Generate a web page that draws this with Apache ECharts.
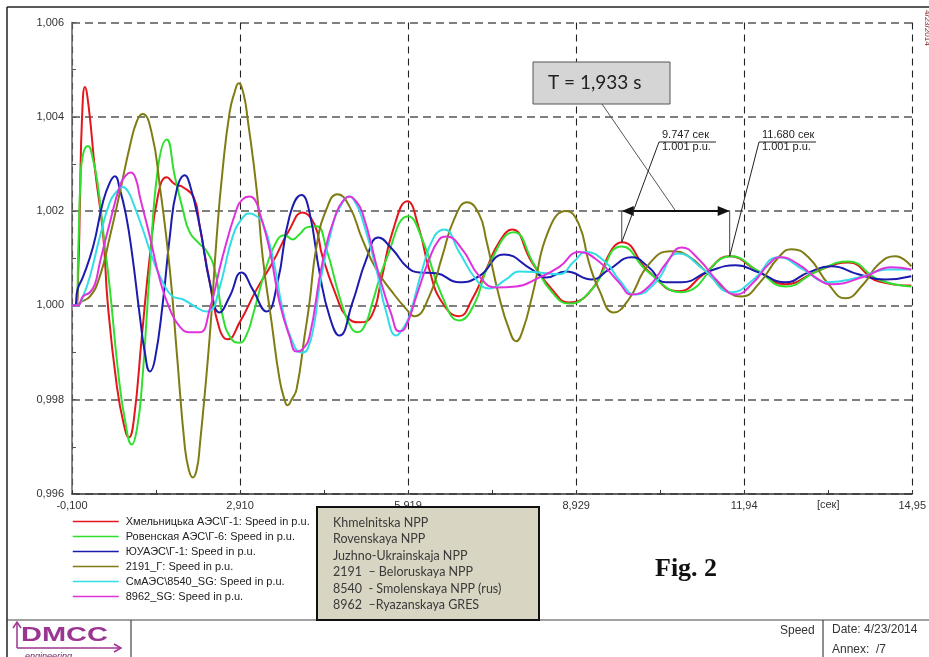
<!DOCTYPE html>
<html><head><meta charset="utf-8">
<script src="https://cdn.jsdelivr.net/npm/echarts@6/dist/echarts.min.js"></script>
<style>html,body{margin:0;padding:0;background:#fff}#c{width:929px;height:657px}</style>
</head><body><div id="c"></div>
<script>
// ---- data ----
const seriesNames = [
  'Хмельницька АЭС\\Г-1: Speed in p.u.',
  'Ровенская АЭС\\Г-6: Speed in p.u.',
  'ЮУАЭС\\Г-1: Speed in p.u.',
  '2191_Г: Speed in p.u.',
  'СмАЭС\\8540_SG: Speed in p.u.',
  '8962_SG: Speed in p.u.'
];
const noteLines = ['Khmelnitska NPP','Rovenskaya NPP','Juzhno-Ukrainskaja NPP','2191  – Beloruskaya NPP','8540  - Smolenskaya NPP (rus)','8962  –Ryazanskaya GRES'];
const xTickLabels = ['-0,100','2,910','5,919','8,929','11,94','14,95'];
const yTickLabels = ['0,996','0,998','1,000','1,002','1,004','1,006'];
const xUnitLabel = '[сек]';
const markA = [9.747, 1.00134];
const markB = [11.680, 1.00104];
const markLabelA = ['9.747 сек','1.001 p.u.'];
const markLabelB = ['11.680 сек','1.001 p.u.'];
const periodText = 'T = 1,933 s';

const khmel = [[-0.1,1.0],[-0.03,1.0],[0.013,1.00076],[0.043,1.00225],[0.079,1.00395],[0.132,1.00463],[0.204,1.00416],[0.311,1.00289],[0.454,1.00155],[0.543,1.0000],[0.704,0.99828],[0.829,0.99747],[0.919,0.99720],[1.008,0.99758],[1.151,0.99934],[1.294,1.00104],[1.437,1.00231],[1.598,1.00272],[1.741,1.00257],[1.884,1.00251],[2.081,1.00229],[2.188,1.00168],[2.367,1.00049],[2.545,0.99949],[2.688,0.99928],[2.903,0.99964],[3.207,1.00034],[3.493,1.00091],[3.797,1.00161],[4.029,1.00197],[4.243,1.00172],[4.386,1.00104],[4.637,1.00019],[4.815,0.99977],[5.048,0.99964],[5.262,0.99977],[5.441,1.00055],[5.638,1.00155],[5.906,1.00221],[6.120,1.00161],[6.299,1.00076],[6.531,1.00006],[6.835,0.99977],[7.067,1.00013],[7.318,1.00076],[7.550,1.00134],[7.782,1.00161],[8.140,1.00091],[8.497,1.00034],[8.801,1.00006],[9.212,1.00034],[9.570,1.00119],[9.747,1.00134],[10.231,1.00072],[10.767,1.00030],[11.214,1.00066],[11.680,1.00104],[12.197,1.00072],[12.680,1.00045],[13.234,1.00072],[13.806,1.00091],[14.342,1.00051],[14.932,1.00042]];
const roven = [[-0.1,1.0],[-0.03,1.0],[0.013,1.00119],[0.052,1.00267],[0.097,1.00320],[0.186,1.00338],[0.275,1.00310],[0.365,1.00253],[0.454,1.00161],[0.579,1.00034],[0.722,0.99864],[0.847,0.99758],[0.972,0.99705],[1.062,0.99737],[1.151,0.99828],[1.294,1.00076],[1.437,1.00289],[1.598,1.00352],[1.741,1.00274],[1.884,1.00204],[2.009,1.00155],[2.188,1.00130],[2.313,1.00115],[2.456,1.00076],[2.599,0.99977],[2.760,0.99928],[2.903,0.99921],[3.028,0.99938],[3.135,0.99977],[3.385,1.00083],[3.582,1.00140],[3.707,1.00149],[3.850,1.00140],[3.975,1.00151],[4.118,1.00166],[4.279,1.00168],[4.458,1.00119],[4.690,1.00019],[4.869,0.99960],[5.012,0.99943],[5.155,0.99960],[5.280,1.00006],[5.530,1.00098],[5.924,1.00189],[6.174,1.00140],[6.531,1.00019],[6.835,0.99968],[7.103,1.00002],[7.371,1.00087],[7.818,1.00155],[8.176,1.00087],[8.497,1.00028],[8.801,1.00004],[9.212,1.00034],[9.747,1.00125],[10.231,1.00070],[10.821,1.00028],[11.715,1.00104],[12.197,1.00072],[12.680,1.00040],[13.234,1.00072],[13.806,1.00093],[14.342,1.00055],[14.932,1.00040]];
const yuu = [[-0.1,1.0],[-0.05,1.0],[0.0,1.00034],[0.102,1.00062],[0.281,1.00126],[0.454,1.00219],[0.579,1.00261],[0.669,1.00274],[0.758,1.00246],[0.865,1.00193],[0.972,1.00113],[1.115,0.99977],[1.205,0.99900],[1.294,0.99860],[1.384,0.99885],[1.527,1.00006],[1.652,1.00146],[1.777,1.00246],[1.920,1.00276],[2.009,1.00257],[2.188,1.00168],[2.367,1.00049],[2.545,0.99985],[2.724,1.00019],[2.939,1.00070],[3.135,1.00034],[3.385,0.99987],[3.582,1.00049],[3.797,1.00189],[4.011,1.00234],[4.154,1.00197],[4.333,1.00070],[4.512,0.99977],[4.690,0.99936],[4.923,1.00006],[5.173,1.00098],[5.387,1.00144],[5.638,1.00119],[5.906,1.00081],[6.120,1.00070],[6.424,1.00068],[6.835,1.00049],[7.193,1.00062],[7.639,1.00108],[8.140,1.00076],[8.390,1.00059],[8.748,1.00072],[9.212,1.00055],[9.516,1.00076],[9.927,1.00102],[10.231,1.00081],[10.535,1.00049],[10.821,1.00049],[11.304,1.00072],[11.786,1.00085],[12.197,1.00070],[12.680,1.00049],[13.091,1.00070],[13.502,1.00083],[13.985,1.00066],[14.467,1.00055],[14.932,1.00062]];
const bel = [[-0.1,1.0],[0.0,1.0],[0.043,1.00006],[0.222,1.00019],[0.400,1.00062],[0.579,1.00146],[0.758,1.00240],[0.937,1.00338],[1.062,1.00391],[1.164,1.00406],[1.325,1.00367],[1.473,1.00253],[1.652,1.00076],[1.777,0.99900],[1.920,0.99701],[1.991,0.99652],[2.063,0.99635],[2.134,0.99652],[2.188,0.99701],[2.367,0.99934],[2.492,1.00146],[2.599,1.00289],[2.724,1.00410],[2.813,1.00452],[2.885,1.00471],[2.974,1.00448],[3.046,1.00395],[3.207,1.00246],[3.314,1.00104],[3.475,0.99964],[3.618,0.99843],[3.707,0.99800],[3.761,0.99788],[3.832,0.99800],[3.922,0.99822],[4.065,0.99934],[4.154,1.00006],[4.279,1.00125],[4.458,1.00204],[4.655,1.00236],[4.869,1.00210],[5.101,1.00140],[5.352,1.00076],[5.638,1.00028],[5.888,0.99992],[6.031,0.99977],[6.299,1.00019],[6.531,1.00104],[6.746,1.00183],[6.978,1.00219],[7.193,1.00193],[7.318,1.00140],[7.550,1.00019],[7.729,0.99949],[7.854,0.99924],[7.979,0.99949],[8.140,1.00019],[8.444,1.00161],[8.748,1.00200],[8.980,1.00172],[9.159,1.00091],[9.338,1.00034],[9.606,0.99985],[9.874,1.00013],[10.231,1.00087],[10.624,1.00115],[10.946,1.00104],[11.304,1.00066],[11.661,1.00028],[11.894,1.00019],[12.197,1.00045],[12.555,1.00102],[12.787,1.00119],[13.091,1.00102],[13.448,1.00045],[13.752,1.00015],[14.074,1.00045],[14.342,1.00087],[14.646,1.00104],[14.932,1.00083]];
const smol = [[-0.1,1.0],[0.0,1.0],[0.097,1.00019],[0.222,1.00062],[0.400,1.00146],[0.579,1.00219],[0.704,1.00242],[0.811,1.00251],[0.901,1.00242],[0.990,1.00219],[1.169,1.00161],[1.348,1.00098],[1.527,1.00049],[1.705,1.00019],[1.884,1.00013],[2.099,0.99998],[2.313,0.99987],[2.420,0.99992],[2.510,1.00023],[2.599,1.00062],[2.778,1.00146],[2.939,1.00183],[3.082,1.00195],[3.207,1.00189],[3.314,1.00176],[3.493,1.00104],[3.672,0.99992],[3.832,0.99928],[4.011,0.99900],[4.118,0.99907],[4.243,0.99964],[4.333,1.00040],[4.565,1.00168],[4.726,1.00214],[4.869,1.00231],[4.994,1.00214],[5.101,1.00183],[5.352,1.00076],[5.530,0.99985],[5.709,0.99936],[5.816,0.99949],[5.941,0.99977],[6.174,1.00076],[6.388,1.00146],[6.567,1.00161],[6.835,1.00113],[7.139,1.00055],[7.371,1.00036],[7.675,1.00055],[7.908,1.00072],[8.265,1.00070],[8.623,1.00066],[8.891,1.00093],[9.105,1.00113],[9.463,1.00091],[9.695,1.00055],[9.999,1.00023],[10.356,1.00049],[10.767,1.00110],[11.214,1.00076],[11.715,1.00028],[12.108,1.00055],[12.555,1.00102],[13.001,1.00076],[13.448,1.00049],[13.985,1.00059],[14.521,1.00076],[14.932,1.00076]];
const ryaz = [[-0.1,1.0],[0.0,1.0],[0.097,1.00019],[0.222,1.00028],[0.311,1.00045],[0.400,1.00091],[0.579,1.00176],[0.758,1.00253],[0.865,1.00276],[0.955,1.00282],[1.044,1.00268],[1.115,1.00231],[1.294,1.00146],[1.473,1.00055],[1.652,0.99992],[1.830,0.99955],[2.009,0.99943],[2.188,0.99943],[2.367,0.99992],[2.599,1.00104],[2.849,1.00204],[2.956,1.00225],[3.064,1.00231],[3.171,1.00225],[3.260,1.00197],[3.439,1.00119],[3.618,1.00006],[3.797,0.99934],[3.922,0.99902],[4.029,0.99907],[4.154,0.99934],[4.386,1.00091],[4.637,1.00197],[4.780,1.00225],[4.869,1.00231],[4.958,1.00225],[5.101,1.00197],[5.405,1.00062],[5.620,0.99981],[5.763,0.99945],[5.870,0.99953],[6.067,1.00019],[6.299,1.00098],[6.478,1.00140],[6.603,1.00146],[6.889,1.00119],[7.193,1.00062],[7.497,1.00038],[7.854,1.00040],[8.265,1.00059],[8.623,1.00081],[8.980,1.00113],[9.338,1.00093],[9.695,1.00049],[9.927,1.00023],[10.231,1.00040],[10.553,1.00091],[10.821,1.00123],[11.125,1.00098],[11.482,1.00049],[11.786,1.00023],[12.108,1.00049],[12.376,1.00087],[12.591,1.00102],[12.912,1.00087],[13.270,1.00055],[13.502,1.00045],[14.110,1.00062],[14.575,1.00081],[14.932,1.00076]];

// ---- chart ----
const colors = ['#e3161b','#2fe02f','#1b1bb0','#807c14','#33dde6','#e032dc'];
const chart = echarts.init(document.getElementById('c'));
const allData = [khmel, roven, yuu, bel, smol, ryaz];
const series = allData.map((d, i) => ({
  name: seriesNames[i], type: 'line', data: d, symbol: 'none', showSymbol: false,
  smooth: 0.5, z: 2 + i,
  lineStyle: { width: 2, color: colors[i] }, itemStyle: { color: colors[i] }
}));
const labelFont = { fontFamily: 'Liberation Sans', fontSize: 11, color: '#333' };
chart.setOption({
  animation: false,
  backgroundColor: '#ffffff',
  grid: { left: 72, right: 15, top: 22.5, bottom: 163 },
  xAxis: {
    type: 'value', min: -0.1, max: 14.95, interval: 3.01,
    axisLine: { show: true, onZero: false, lineStyle: { color: '#333', width: 1.5 } },
    axisTick: { show: true, inside: true, length: 4, lineStyle: { color: '#333' } },
    minorTick: { show: true, splitNumber: 2, length: 4, lineStyle: { color: '#333' } },
    axisLabel: Object.assign({ margin: 6, showMinLabel: true, showMaxLabel: true,
      formatter: v => xTickLabels[Math.round((v + 0.1) / 3.01)] }, labelFont),
    splitLine: { show: true, lineStyle: { color: '#222', width: 1.1, type: [7, 5] } }
  },
  yAxis: {
    type: 'value', min: 0.996, max: 1.006, interval: 0.002,
    axisLine: { show: true, onZero: false, lineStyle: { color: '#666', width: 1.5 } },
    axisTick: { show: true, inside: true, length: 4, lineStyle: { color: '#555' } },
    minorTick: { show: true, splitNumber: 2, length: 4, lineStyle: { color: '#555' } },
    axisLabel: Object.assign({ margin: 8, formatter: v => yTickLabels[Math.round((v - 0.996) / 0.002)] }, labelFont),
    splitLine: { show: true, lineStyle: { color: '#555', width: 1.5, type: [8, 5] } }
  },
  legend: {
    orient: 'vertical', left: 72, top: 516, itemWidth: 46, itemHeight: 12, itemGap: 4,
    padding: 0, selectedMode: false, data: seriesNames,
    itemStyle: { opacity: 0 },
    lineStyle: { width: 1.5 },
    textStyle: { fontFamily: 'Liberation Sans', fontSize: 11, color: '#222', padding: [0, 0, 0, 2] }
  },
  series: series
});

// ---- annotations ----
const px = (t, v) => chart.convertToPixel({ gridIndex: 0 }, [t, v]);
const [xL, yPL] = px(markA[0], markA[1]);
const [xR, yPR] = px(markB[0], markB[1]);
const yArr = px(0, 1.002)[1];
const xSec = px(13.445, 0.996)[0];
const yAx = px(0, 0.996)[1];
const midX = (xL + xR) / 2;
const Z = 100;
const ln = (x1, y1, x2, y2, stroke, w) => ({ type: 'line', z: Z, shape: { x1, y1, x2, y2 }, style: { stroke, lineWidth: w } });
const tx = (x, y, text, font, fill, extra) => Object.assign({ type: 'text', z: Z, x, y,
  style: { text, font, fill, textVerticalAlign: 'middle' } }, extra || {});
const g = [];
// frame
g.push(ln(7, 7, 929, 7, '#222', 1.5));
g.push(ln(7, 7, 7, 657, '#222', 1.5));
g.push(ln(7, 620, 929, 620, '#444', 1.2));
g.push(ln(131, 620, 131, 657, '#444', 1.2));
g.push(ln(823, 620, 823, 657, '#444', 1.2));
g.push(tx(927, 10, '4/23/2014', '8px Liberation Sans', '#7a2020', { rotation: -Math.PI / 2 }));
// footer
g.push(tx(780, 631, 'Speed', '12px Liberation Sans', '#333'));
g.push(tx(832, 630, 'Date: 4/23/2014', '12px Liberation Sans', '#333'));
g.push(tx(832, 650, 'Annex:  /7', '12px Liberation Sans', '#333'));
// logo
g.push(tx(21, 635, 'DMCC', 'bold 21px Liberation Sans', '#9b3592', { scaleX: 1.38 }));
g.push(ln(17, 648, 17, 623, '#9b3592', 1.5));
g.push(ln(17, 648, 120, 648, '#9b3592', 1.5));
g.push({ type: 'polyline', z: Z, shape: { points: [[13, 628], [17, 622], [21, 628]] }, style: { stroke: '#9b3592', lineWidth: 1.5, fill: null } });
g.push({ type: 'polyline', z: Z, shape: { points: [[114, 644], [121, 648], [114, 652]] }, style: { stroke: '#9b3592', lineWidth: 1.5, fill: null } });
g.push(tx(25, 656, 'engineering', 'italic 9px Liberation Sans', '#6b2563'));
// plant note box
g.push({ type: 'rect', z: Z, shape: { x: 317, y: 507, width: 222, height: 113 }, style: { fill: '#d8d5c3', stroke: '#111', lineWidth: 2 } });
noteLines.forEach((s, i) => g.push(tx(333, 523 + i * 16.4, s, '12.5px Lato', '#3a3a3a')));
// Fig. 2
g.push(tx(655, 569, 'Fig. 2', 'bold 26px Liberation Serif', '#111'));
// period box
g.push({ type: 'rect', z: Z, shape: { x: 533, y: 62, width: 137, height: 42 }, style: { fill: '#d5d5d5', stroke: '#555', lineWidth: 1 } });
g.push(tx(548, 83, periodText, '19px Lato', '#222'));
g.push(ln(602, 104, midX, yArr, '#555', 1));
// double arrow
g.push(ln(xL + 10, yArr, xR - 10, yArr, '#111', 2));
g.push({ type: 'polygon', z: Z, shape: { points: [[xL, yArr], [xL + 12, yArr - 5], [xL + 12, yArr + 5]] }, style: { fill: '#111' } });
g.push({ type: 'polygon', z: Z, shape: { points: [[xR, yArr], [xR - 12, yArr - 5], [xR - 12, yArr + 5]] }, style: { fill: '#111' } });
g.push(ln(xL, yArr, xL, yPL, '#444', 1));
g.push(ln(xR, yArr, xR, yPR, '#444', 1));
// marker labels
g.push(tx(662, 135, markLabelA[0], '11px Liberation Sans', '#222'));
g.push(tx(662, 147, markLabelA[1], '11px Liberation Sans', '#222'));
g.push(ln(659, 142, 716, 142, '#222', 1));
g.push(ln(659, 142, xL, yPL, '#222', 1));
g.push(tx(762, 135, markLabelB[0], '11px Liberation Sans', '#222'));
g.push(tx(762, 147, markLabelB[1], '11px Liberation Sans', '#222'));
g.push(ln(759, 142, 816, 142, '#222', 1));
g.push(ln(759, 142, xR, yPR, '#222', 1));
// unit label on x axis
g.push({ type: 'text', z: Z, x: xSec, y: yAx + 11, style: { text: xUnitLabel, font: '11px Liberation Sans', fill: '#333', textAlign: 'center', textVerticalAlign: 'middle' } });
chart.setOption({ graphic: { elements: g } });
</script></body></html>
